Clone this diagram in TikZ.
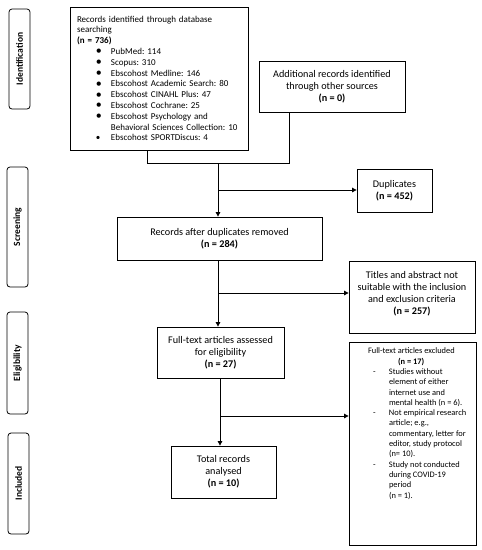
\documentclass[tikz,border=0pt]{standalone}
\usepackage{fontspec}
\setmainfont{Carlito}
\usetikzlibrary{arrows.meta}
\newcommand{\bul}{\makebox[15pt][l]{\raisebox{-0.3pt}{\fontsize{12}{12}\selectfont •}}}
\begin{document}
\frenchspacing
\begin{tikzpicture}[x=1pt,y=-1pt,
  box/.style={draw=black,line width=0.8pt,inner sep=0pt,align=center,font=\fontsize{10.2}{12}\selectfont},
  stage/.style={draw=black,line width=0.8pt,rounded corners=3pt,inner sep=0pt,minimum width=21pt,font=\fontsize{9.5}{11}\selectfont\bfseries},
  link/.style={line width=0.8pt},
  arr/.style={line width=0.8pt,-{Triangle[length=4.5pt,width=4.5pt]}}]
\useasboundingbox (0,0) rectangle (482,550);
% stage labels
\node[stage,minimum height=100pt] (idlab) at (19.5,59) {\rotatebox{90}{Identification}};
\node[stage,minimum height=120pt] (scrlab) at (17.5,227) {\rotatebox{90}{Screening}};
\node[stage,minimum height=102pt] (elilab) at (17.5,363) {\rotatebox{90}{Eligibility}};
\node[stage,minimum height=101pt] (inclab) at (18.5,483.5) {\rotatebox{90}{Included}};
% boxes
\node[box,align=left,text width=164pt,inner xsep=7pt,minimum height=143pt,font=\fontsize{9}{10.8}\selectfont] (rec) at (159,78.5) {Records identified through database\\
searching\\
\textbf{(n = 736)}\\
\hspace*{19pt}\bul PubMed: 114\\
\hspace*{19pt}\bul Scopus: 310\\
\hspace*{19pt}\bul Ebscohost Medline: 146\\
\hspace*{19pt}\bul Ebscohost Academic Search: 80\\
\hspace*{19pt}\bul Ebscohost CINAHL Plus: 47\\
\hspace*{19pt}\bul Ebscohost Cochrane: 25\\
\hspace*{19pt}\bul Ebscohost Psychology and\\
\hspace*{34pt}Behavioral Sciences Collection: 10\\
\hspace*{19pt}\makebox[15pt][l]{•}Ebscohost SPORTDiscus: 4};
\node[box,minimum width=146pt,minimum height=51pt] (add) at (332,86.5) {Additional records identified\\through other sources\\\textbf{(n = 0)}};
\node[box,minimum width=75pt,minimum height=43pt] (dup) at (394.5,190.5) {Duplicates\\\textbf{(n = 452)}};
\node[box,minimum width=205pt,minimum height=43pt] (after) at (219.5,238.5) {Records after duplicates removed\\\textbf{(n = 284)}};
\node[box,minimum width=126pt,minimum height=72pt] (titles) at (412,297) {Titles and abstract not\\suitable with the inclusion\\and exclusion criteria\\\textbf{(n = 257)}\\[-4pt]\mbox{}};
\node[box,minimum width=127pt,minimum height=51pt] (full) at (220.5,352.5) {Full-text articles assessed\\for eligibility\\\textbf{(n = 27)}};
\node[box,minimum width=127pt,minimum height=203pt,font=\fontsize{8.4}{10.3}\selectfont] (excl) at (412.5,443.5) {\parbox[c][195pt][t]{127pt}{\raggedright\vspace*{2pt}%
\hspace*{19pt}Full-text articles excluded\\
\hspace*{49pt}\textbf{(n = 17)}\\
\hspace*{24pt}\makebox[16pt][l]{-}Studies without\\
\hspace*{40pt}element of either\\
\hspace*{40pt}internet use and\\
\hspace*{40pt}mental health (n = 6).\\
\hspace*{24pt}\makebox[16pt][l]{-}Not empirical research\\
\hspace*{40pt}article; e.g.,\\
\hspace*{40pt}commentary, letter for\\
\hspace*{40pt}editor, study protocol\\
\hspace*{40pt}(n= 10).\\
\hspace*{24pt}\makebox[16pt][l]{-}Study not conducted\\
\hspace*{40pt}during COVID-19\\
\hspace*{40pt}period\\
\hspace*{40pt}(n = 1).}};
\node[box,minimum width=105pt,minimum height=52pt] (total) at (223.5,472) {Total records\\analysed\\\textbf{(n = 10)}};
% junction coordinates
\coordinate (j1) at (147,163);
\coordinate (j2) at (289,163);
\coordinate (j3) at (218,163);
\coordinate (b1) at (218,190);
\coordinate (b2) at (218,293);
\coordinate (t3) at (220,378);
\coordinate (b3) at (220,416);
% connectors
\draw[link] (rec.south -| j1) -- (j1) -- (j2) -- (add.south -| j2);
\draw[arr] (j3) -- (after.north -| j3);
\draw[arr] (b1) -- (b1 -| dup.west);
\draw[arr] (after.south -| j3) -- (full.north -| j3);
\draw[arr] (b2) -- (b2 -| titles.west);
\draw[arr] (full.south -| t3) -- (total.north -| t3);
\draw[arr] (b3) -- (b3 -| excl.west);
\end{tikzpicture}
\end{document}
